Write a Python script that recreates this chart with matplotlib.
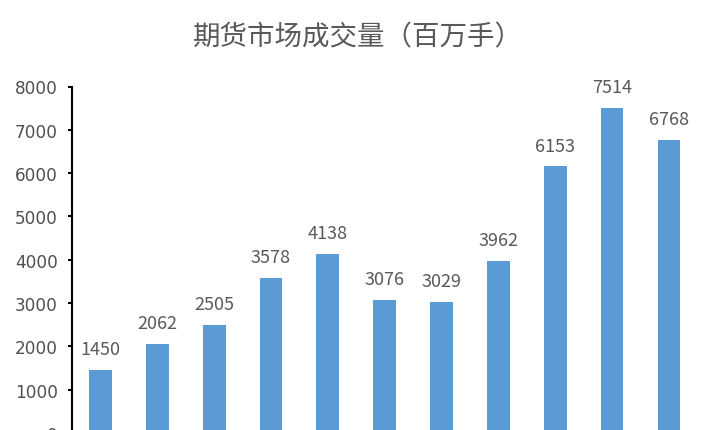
import matplotlib
matplotlib.use("Agg")
import matplotlib.pyplot as plt
import numpy as np

# bar values (million lots); the x labels are cut off in the reference
volumes = [1450, 2062, 2505, 3578, 4138, 3076, 3029, 3962, 6153, 7514, 6768]
yticks = [0, 1000, 2000, 3000, 4000, 5000, 6000, 7000, 8000]
title = "期货市场成交量（百万手）"

plt.rcParams['font.family'] = ['Noto Sans CJK SC', 'DejaVu Sans']

fig = plt.figure(figsize=(7.2, 4.31), dpi=100)
ax = fig.add_axes([72 / 720, -3 / 431, 625.4 / 720, 346.5 / 431])

x = np.arange(len(volumes))
ax.bar(x, volumes, width=0.4, color="#5B9BD5")

# value labels above each bar
for xi, v in zip(x, volumes):
    ax.annotate(str(v), (xi, v), xytext=(0, 11.5), textcoords="offset points",
                ha="center", va="baseline", fontsize=13, color="#595959",
                fontweight="light")

ax.set_xlim(-0.5, len(volumes) - 0.5)
ax.set_ylim(0, 8000)
ax.set_yticks(yticks)
ax.set_yticklabels([str(t) for t in yticks], family=["DejaVu Sans"],
                   fontsize=12.2, color="#4f4f4f")
ax.set_xticks([])

for side in ("top", "right", "bottom"):
    ax.spines[side].set_visible(False)
ax.spines["left"].set_linewidth(1.5)
ax.spines["left"].set_color("black")
ax.tick_params(axis="y", length=3, width=1.5, pad=7, color="black")

fig.text(358 / 720, 1 - 38 / 431, title, ha="center", va="center",
         fontsize=19.8, color="#595959", fontweight="light")

fig.savefig("out.png", dpi=100)
